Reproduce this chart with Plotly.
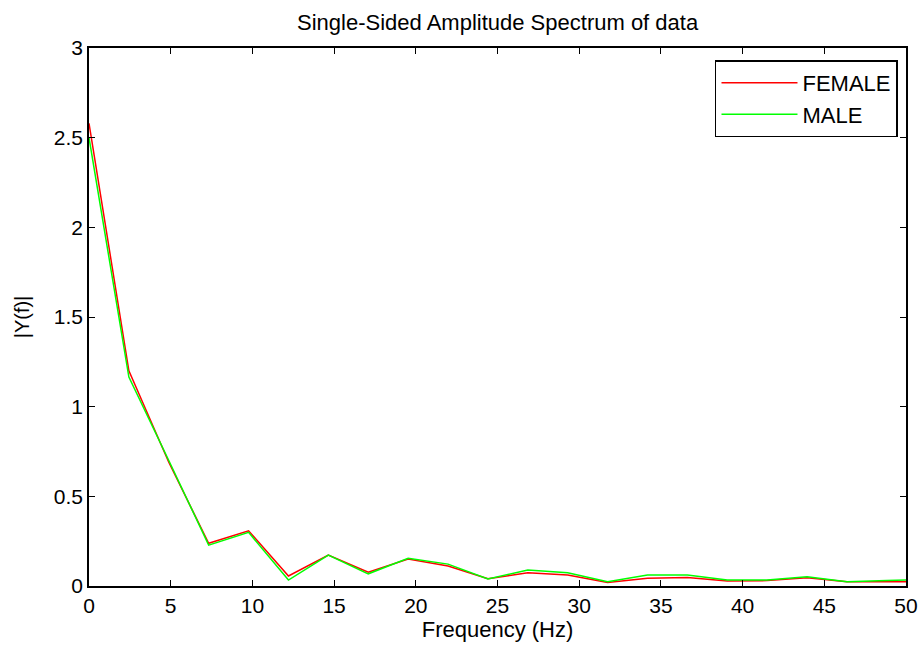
import plotly.graph_objects as go

freq = [0, 2.441, 4.883, 7.324, 9.766, 12.207, 14.648, 17.090, 19.531, 21.973,
        24.414, 26.855, 29.297, 31.738, 34.180, 36.621, 39.063, 41.504, 43.945,
        46.387, 48.828, 51.270]
female = [2.58, 1.20, 0.69, 0.238, 0.308, 0.056, 0.172, 0.077, 0.150, 0.111,
          0.040, 0.074, 0.061, 0.019, 0.043, 0.047, 0.028, 0.030, 0.046, 0.024,
          0.024, 0.024]
male = [2.50, 1.165, 0.70, 0.228, 0.299, 0.033, 0.172, 0.068, 0.155, 0.122,
        0.039, 0.089, 0.074, 0.024, 0.061, 0.061, 0.033, 0.033, 0.052, 0.024,
        0.030, 0.036]
x_ticks = [0, 5, 10, 15, 20, 25, 30, 35, 40, 45, 50]
y_ticks = [0, 0.5, 1, 1.5, 2, 2.5, 3]
y_tick_labels = ["0", "0.5", "1", "1.5", "2", "2.5", "3"]

FONT = "Liberation Sans, Arial, sans-serif"

fig = go.Figure()
fig.add_trace(go.Scatter(x=freq, y=female, mode="lines", name="FEMALE",
                         line=dict(color="#ff0000", width=1.5)))
fig.add_trace(go.Scatter(x=freq, y=male, mode="lines", name="MALE",
                         line=dict(color="#00ff00", width=1.5)))

axis_common = dict(showline=True, linecolor="black", linewidth=1.5, mirror="allticks",
                   ticks="inside", ticklen=6, tickwidth=1.2, tickcolor="black",
                   showgrid=False, zeroline=False, automargin=False,
                   tickfont=dict(family=FONT, size=21, color="black"))

fig.update_layout(
    width=922, height=649,
    margin=dict(l=89, r=16, t=48, b=63),
    paper_bgcolor="white", plot_bgcolor="white",
    title=dict(text="Single-Sided Amplitude Spectrum of data",
               font=dict(family=FONT, size=22, color="black"),
               x=0.5397, xanchor="center", y=0.966, yanchor="middle",
               automargin=False),
    xaxis=dict(range=[0, 50], tickvals=x_ticks,
               title=dict(text="Frequency (Hz)", font=dict(family=FONT, size=22, color="black"),
                          standoff=2),
               **axis_common),
    yaxis=dict(range=[0, 3], tickvals=y_ticks, ticktext=y_tick_labels,
               title=dict(text="|Y(f)|", font=dict(family=FONT, size=20, color="black"),
                          standoff=19),
               **axis_common),
    legend=dict(x=0.9902, y=0.977, xanchor="right", yanchor="top",
                bordercolor="black", borderwidth=1.5, bgcolor="white",
                font=dict(family=FONT, size=22, color="black"),
                itemwidth=76, tracegroupgap=0),
    showlegend=True,
)

fig.write_html("out.html")
